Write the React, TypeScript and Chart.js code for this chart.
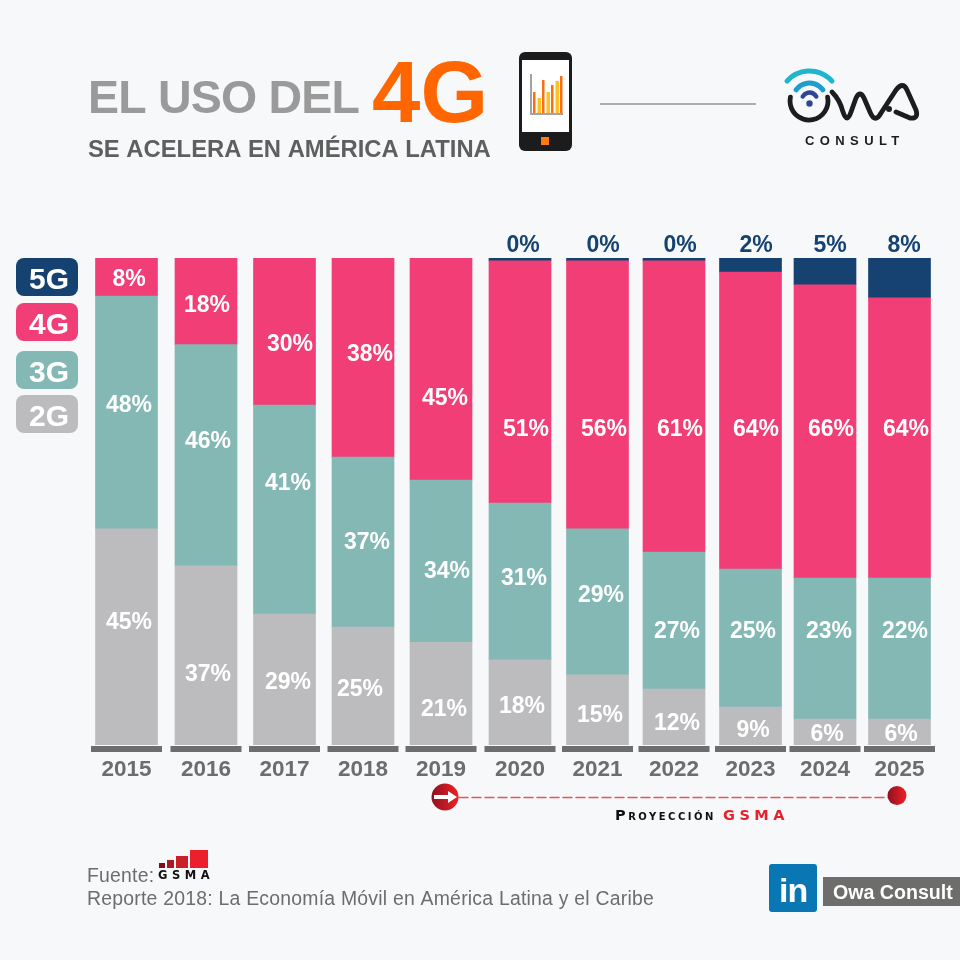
import React, { useEffect, useRef } from 'react';
import { CategoryScale, Chart, registerables } from 'chart.js';

const years = ['2015', '2016', '2017', '2018', '2019', '2020', '2021', '2022', '2023', '2024', '2025'];

// bar shares, read off the height of each segment (the printed figures don't sum to 100)
const share2G = [44.4, 36.8, 26.9, 24.2, 21.1, 17.5, 14.4, 11.5, 7.8, 5.3, 5.3];
const share3G = [47.8, 45.4, 42.9, 34.9, 33.3, 32.2, 30, 28.1, 28.3, 29, 29];
const share4G = [7.8, 17.8, 30.2, 40.9, 45.6, 49.7, 55, 59.8, 61, 60.2, 57.5];
const share5G = [null, null, null, null, null, 0.6, 0.6, 0.6, 2.9, 5.5, 8.2];

// figures as printed on the bars
const printed2G = [45, 37, 29, 25, 21, 18, 15, 12, 9, 6, 6];
const printed3G = [48, 46, 41, 37, 34, 31, 29, 27, 25, 23, 22];
const printed4G = [8, 18, 30, 38, 45, 51, 56, 61, 64, 66, 64];
const printed5G = [null, null, null, null, null, 0, 0, 0, 2, 5, 8];

const legendNames = ['5G', '4G', '3G', '2G'];

const colors = { g5: '#154271', g4: '#f13e76', g3: '#83b8b4', g2: '#bcbcbe' };
const FONT = '"Liberation Sans", Arial, sans-serif';
const GREY = '#6d6d6d';

// the columns were placed by hand in the original, so they aren't evenly spaced
const columnNudge = [0, 2.2, 3.4, 4.6, 5.3, 7, 7.2, 6.4, 5.6, 2.8, 0];

const labelDx = {
  g2: [2.5, 2, 3.5, -3, 3, 2, 2.5, 3, 2.5, 2, 1.5],
  g3: [2.5, 2, 3.5, 4, 6, 4, 3.5, 3, 2.5, 4, 5.5],
  g4: [2.5, 1, 5.5, 7, 4, 6, 6.5, 6, 5.5, 6, 6.5],
  g5: [0, 0, 0, 0, 0, 3, 5.5, 6, 5.5, 5, 4.5],
};
const labelDy = {
  g2: [-16, 17.5, 1.5, 2, 14.5, 2.5, 4, 5, 3, 1, 1],
  g3: [-8.5, -15.5, -27.5, -1, 9, -4.5, -8, 9.5, -8, -18.5, -18.5],
  g4: [1, 2.5, 11.5, -4.5, 28, 46, 33, 21.5, 7.5, -3.5, -10],
  g5: [0, 0, 0, 0, 0, -15.5, -15.5, -15.5, -21, -27.5, -34],
};

class NudgedCategory extends CategoryScale {
  static id = 'nudgedCategory';
  static defaults = CategoryScale.defaults;
  getPixelForValue(value: any) {
    const i = typeof value === 'number' ? value : (this as any).parse(value);
    return super.getPixelForValue(i) + (columnNudge[Math.round(i)] || 0);
  }
}

Chart.register(...registerables, NudgedCategory);

function text(ctx: CanvasRenderingContext2D, str: string, x: number, y: number, font: string, color: string, align: CanvasTextAlign = 'left', spacing = '0px') {
  ctx.font = font;
  ctx.fillStyle = color;
  ctx.textAlign = align;
  ctx.textBaseline = 'alphabetic';
  (ctx as any).letterSpacing = spacing;
  ctx.fillText(str, x, y);
  (ctx as any).letterSpacing = '0px';
}

function rounded(ctx: CanvasRenderingContext2D, x: number, y: number, w: number, h: number, r: number, color: string) {
  ctx.fillStyle = color;
  ctx.beginPath();
  ctx.roundRect(x, y, w, h, r);
  ctx.fill();
}

function drawPhone(ctx: CanvasRenderingContext2D) {
  rounded(ctx, 519, 52, 53, 99, 6, '#1c1c1c');
  ctx.fillStyle = '#ffffff';
  ctx.fillRect(522, 60, 47, 72);
  ctx.fillStyle = '#a3a3a3';
  ctx.fillRect(530, 74, 2, 40);
  ctx.fillRect(530, 113, 33, 2);
  const tops = [92, 98, 80, 92, 85, 81, 76];
  tops.forEach((top, i) => {
    ctx.fillStyle = i % 2 ? '#fdc326' : '#fb6e14';
    ctx.fillRect(533 + i * 4.5, top, i % 2 ? 3.5 : 2.5, 113 - top);
  });
  ctx.fillStyle = '#ff7a13';
  ctx.fillRect(541, 137, 8, 8);
}

function drawLogo(ctx: CanvasRenderingContext2D) {
  ctx.lineCap = 'round';
  ctx.lineJoin = 'round';
  const arc = (x: number, y: number, r: number, half: number, color: string, w: number) => {
    ctx.strokeStyle = color;
    ctx.lineWidth = w;
    ctx.beginPath();
    ctx.arc(x, y, r, Math.PI * (1.5 - half), Math.PI * (1.5 + half));
    ctx.stroke();
  };
  ctx.strokeStyle = '#1d1d1f';
  ctx.lineWidth = 4.8;
  ctx.beginPath();
  ctx.arc(809, 101, 19, -0.2, Math.PI + 0.2);
  ctx.stroke();
  arc(809.5, 101, 30, 0.27, '#1fb5cc', 5);
  arc(809.5, 99.5, 16.5, 0.3, '#1f9cd0', 5);
  arc(809.5, 100.2, 7.7, 0.34, '#2f4696', 4.5);
  ctx.fillStyle = '#2f4696';
  ctx.beginPath();
  ctx.arc(809.5, 103.5, 3.2, 0, Math.PI * 2);
  ctx.fill();

  ctx.strokeStyle = '#1d1d1f';
  ctx.lineWidth = 4.8;
  ctx.beginPath();
  ctx.moveTo(832, 92);
  ctx.quadraticCurveTo(840, 100, 843, 112);
  ctx.quadraticCurveTo(847, 124, 851, 112);
  ctx.lineTo(856, 98);
  ctx.quadraticCurveTo(860, 90, 864, 98);
  ctx.lineTo(870, 112);
  ctx.quadraticCurveTo(875, 124, 881, 113);
  ctx.lineTo(896, 90);
  ctx.quadraticCurveTo(903, 81, 907, 90);
  ctx.lineTo(916, 110);
  ctx.quadraticCurveTo(919, 119, 910, 118);
  ctx.lineTo(896, 112);
  ctx.stroke();
  ctx.fillStyle = '#1d1d1f';
  ctx.beginPath();
  ctx.arc(889, 109, 3, 0, Math.PI * 2);
  ctx.fill();

  text(ctx, 'CONSULT', 805, 145, `bold 13px ${FONT}`, '#1d1d1f', 'left', '5.4px');
}

function drawProjection(ctx: CanvasRenderingContext2D) {
  ctx.strokeStyle = '#e8535c';
  ctx.lineWidth = 1.5;
  ctx.setLineDash([9, 4]);
  ctx.beginPath();
  ctx.moveTo(459, 797.5);
  ctx.lineTo(889, 797.5);
  ctx.stroke();
  ctx.setLineDash([]);

  const ball = (x: number, y: number, r: number) => {
    const g = ctx.createLinearGradient(x - r, y, x + r, y);
    g.addColorStop(0, '#8f1220');
    g.addColorStop(1, '#ee2027');
    ctx.fillStyle = g;
    ctx.beginPath();
    ctx.arc(x, y, r, 0, Math.PI * 2);
    ctx.fill();
  };
  ball(445, 797, 13.5);
  ball(897, 795.5, 9.5);

  ctx.fillStyle = '#ffffff';
  ctx.beginPath();
  ctx.moveTo(434, 795);
  ctx.lineTo(448, 795);
  ctx.lineTo(448, 791);
  ctx.lineTo(457, 797);
  ctx.lineTo(448, 803);
  ctx.lineTo(448, 799);
  ctx.lineTo(434, 799);
  ctx.closePath();
  ctx.fill();

  text(ctx, 'Proyección', 615, 820, `small-caps bold 14.5px "DejaVu Sans", sans-serif`, '#111111', 'left', '2.5px');
  text(ctx, 'GSMA', 723, 820, `bold 14.5px "DejaVu Sans", sans-serif`, '#e3222b', 'left', '4.5px');
}

function drawFooter(ctx: CanvasRenderingContext2D) {
  text(ctx, 'Fuente:', 87, 881.5, `19.4px ${FONT}`, GREY, 'left', '0.23px');
  text(ctx, 'Reporte 2018: La Economía Móvil en América Latina y el Caribe', 87, 904.5, `19.4px ${FONT}`, GREY, 'left', '0.23px');

  // GSMA mark
  ctx.fillStyle = '#7d0f1a';
  ctx.fillRect(159, 863, 6, 5);
  ctx.fillStyle = '#a81a24';
  ctx.fillRect(167, 860, 7, 8);
  ctx.fillStyle = '#cc2029';
  ctx.fillRect(176, 856, 12, 12);
  ctx.fillStyle = '#ec1f2c';
  ctx.fillRect(190, 850, 18, 18);
  text(ctx, 'GSMA', 158, 879, `bold 11.5px "DejaVu Sans", sans-serif`, '#111111', 'left', '4.5px');

  // LinkedIn badge
  rounded(ctx, 769, 864, 48, 48, 3, '#0a77b5');
  text(ctx, 'in', 779, 902, `bold 34px ${FONT}`, '#ffffff', 'left', '-1px');
  ctx.fillStyle = '#6d6d6b';
  ctx.fillRect(823, 877, 137, 29);
  text(ctx, 'Owa Consult', 833, 899, `bold 19.6px ${FONT}`, '#ffffff');
}

const decorations = {
  id: 'decorations',
  beforeDraw(chart: any) {
    const { ctx, width, height } = chart;
    ctx.save();
    ctx.fillStyle = '#f7f8fa';
    ctx.fillRect(0, 0, width, height);

    text(ctx, 'EL USO DEL', 88, 113, `bold 46.5px ${FONT}`, '#9a9a9a', 'left', '-0.8px');
    text(ctx, '4G', 372, 122, `bold 87px ${FONT}`, '#ff6600');
    text(ctx, 'SE ACELERA EN AMÉRICA LATINA', 88, 157, `bold 23.8px ${FONT}`, '#5f5f5f');
    drawPhone(ctx);
    ctx.fillStyle = '#adadad';
    ctx.fillRect(600, 103, 156, 2);
    drawLogo(ctx);

    const legendTops = [258, 303, 351, 395];
    const legendFills = [colors.g5, colors.g4, colors.g3, colors.g2];
    legendNames.forEach((name, i) => {
      rounded(ctx, 16, legendTops[i], 62, 38, 8, legendFills[i]);
      text(ctx, name, 49, legendTops[i] + 31, `bold 30px ${FONT}`, '#ffffff', 'center');
    });

    drawProjection(ctx);
    drawFooter(ctx);
    ctx.restore();
  },
  afterDatasetsDraw(chart: any) {
    const { ctx, scales } = chart;
    ctx.save();
    // dark foot under every column
    ctx.fillStyle = GREY;
    years.forEach((_, i) => {
      ctx.fillRect(scales.x.getPixelForTick(i) - 35.5, 746, 71, 6);
    });
    // value labels
    chart.data.datasets.forEach((ds: any, d: number) => {
      const meta = chart.getDatasetMeta(d);
      meta.data.forEach((bar: any, i: number) => {
        const value = ds.printed[i];
        if (value === null) return;
        const c = bar.getCenterPoint();
        const x = c.x + labelDx[ds.key as keyof typeof labelDx][i];
        const y = c.y + labelDy[ds.key as keyof typeof labelDy][i];
        text(ctx, `${value}%`, x, y + 8, `bold 23px ${FONT}`, ds.key === 'g5' ? colors.g5 : '#ffffff', 'center');
      });
    });
    ctx.restore();
  },
};

export default function App() {
  const canvasRef = useRef<HTMLCanvasElement | null>(null);

  useEffect(() => {
    document.body.style.margin = '0';
    const canvas = canvasRef.current;
    if (!canvas) return;

    const chart = new Chart(canvas, {
      type: 'bar',
      data: {
        labels: years,
        datasets: [
          { key: 'g2', label: '2G', data: share2G, printed: printed2G, backgroundColor: colors.g2 },
          { key: 'g3', label: '3G', data: share3G, printed: printed3G, backgroundColor: colors.g3 },
          { key: 'g4', label: '4G', data: share4G, printed: printed4G, backgroundColor: colors.g4 },
          { key: 'g5', label: '5G', data: share5G, printed: printed5G, backgroundColor: colors.g5 },
        ] as any,
      },
      options: {
        responsive: false,
        animation: false,
        devicePixelRatio: 1,
        layout: { padding: { left: 87.85, right: 21.85, top: 258, bottom: 165 } },
        datasets: { bar: { barThickness: 62 } },
        plugins: { legend: { display: false }, title: { display: false }, tooltip: { enabled: false } },
        scales: {
          x: {
            type: 'nudgedCategory' as any,
            stacked: true,
            offset: true,
            grid: { display: false },
            border: { display: false },
            ticks: { color: GREY, padding: 3, maxRotation: 0, autoSkip: false, font: { family: FONT, size: 22.5, weight: 'bold' } },
            afterFit: (s: any) => { s.height = 50; },
          },
          y: { display: false, stacked: true, min: 0, max: 100 },
        },
      },
      plugins: [decorations],
    });

    return () => chart.destroy();
  }, []);

  return <canvas ref={canvasRef} width={960} height={960} style={{ display: 'block' }} />;
}
